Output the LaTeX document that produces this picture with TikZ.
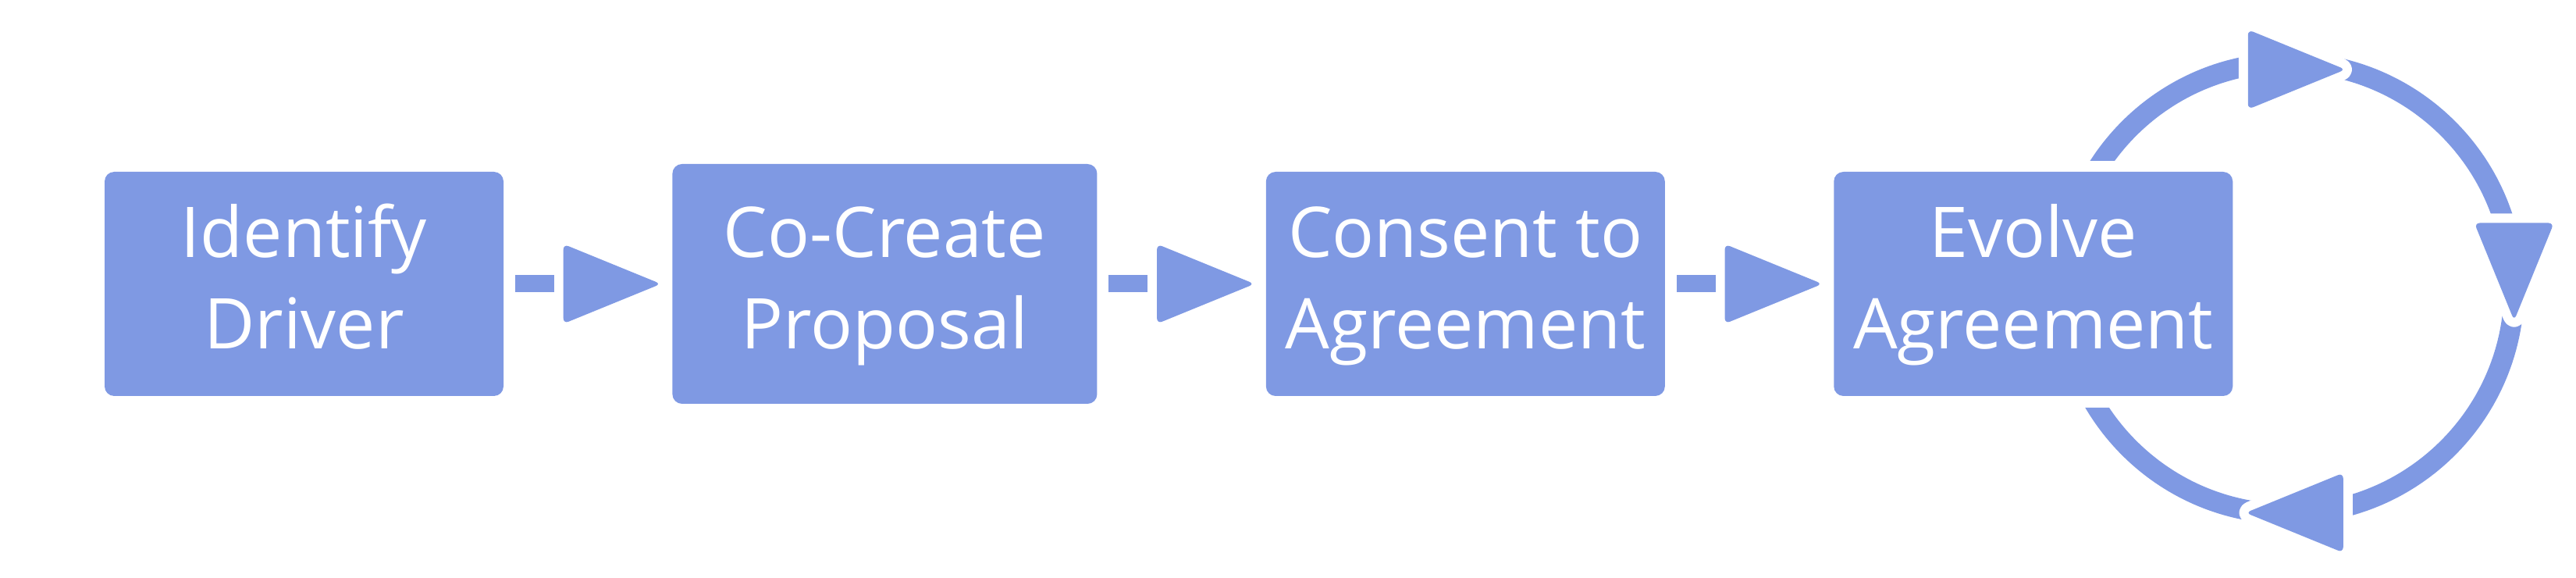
\documentclass[tikz,border=0pt]{standalone}
\usepackage{fontspec}
\setmainfont{Open Sans}
\usetikzlibrary{positioning,calc}
\definecolor{FlowBlue}{RGB}{127,153,227}

% dash + head between two steps
\newcommand{\flowstep}[2]{%
  \fill[FlowBlue] ($(#1.east)+(0.14,0.11)$) rectangle ($(#1.east)+(0.64,-0.11)$);
  \fill[FlowBlue, rounded corners=2pt] ($(#1.east)+(0.76,0.51)$) -- ($(#2.west |- #1.east)+(-0.14,0)$) -- ($(#1.east)+(0.76,-0.51)$) -- cycle;
}
% head sitting on the loop
\newcommand{\loophead}[2]{%
  \path[headfill, shift={(#1)}, rotate=#2] (-0.625,0.51) -- (0.625,0) -- (-0.625,-0.51) -- cycle;
}

\begin{document}
\begin{tikzpicture}[
    node distance=2.15cm,
    block/.style={rectangle, rounded corners=3.5pt, fill=FlowBlue, text=white,
        minimum width=5.11cm, minimum height=2.87cm, inner sep=0pt, align=center,
        font=\fontsize{25.5}{33.3}\selectfont, text height=2.0cm, text depth=0.33cm},
    headfill/.style={fill=FlowBlue, rounded corners=2pt,
        preaction={draw=white, line width=0.24cm, line join=round}},
]
\useasboundingbox (0,0) rectangle (33,-7.4);

\node[block] (driver) at (3.895,-3.635) {Identify\\Driver};
\node[block, right=of driver, minimum width=5.44cm, minimum height=3.07cm] (proposal) {Co-Create\\Proposal};
\node[block, right=of proposal] (consent) {Consent to\\Agreement};
\node[block, right=of consent] (evolve) {Evolve\\Agreement};

\flowstep{driver}{proposal}
\flowstep{proposal}{consent}
\flowstep{consent}{evolve}

% loop round the last step
\coordinate (loop) at ($(evolve.center)+(3.27,-0.055)$);
\coordinate (headtop) at ($(loop)+(0.105,2.80)$);
\coordinate (headright) at ($(loop)+(2.89,0.21)$);
\coordinate (headbottom) at ($(loop)+(0.075,-2.875)$);
\begin{scope}
  \clip (26,0) rectangle (33,-2.06) (26,-5.22) rectangle (33,-7.4) (28.6,0) rectangle (33,-7.4);
  \draw[FlowBlue, line width=0.26cm] (loop) circle[radius=2.89];
\end{scope}
\loophead{headtop}{0}
\loophead{headright}{-90}
\loophead{headbottom}{180}
\end{tikzpicture}
\end{document}
